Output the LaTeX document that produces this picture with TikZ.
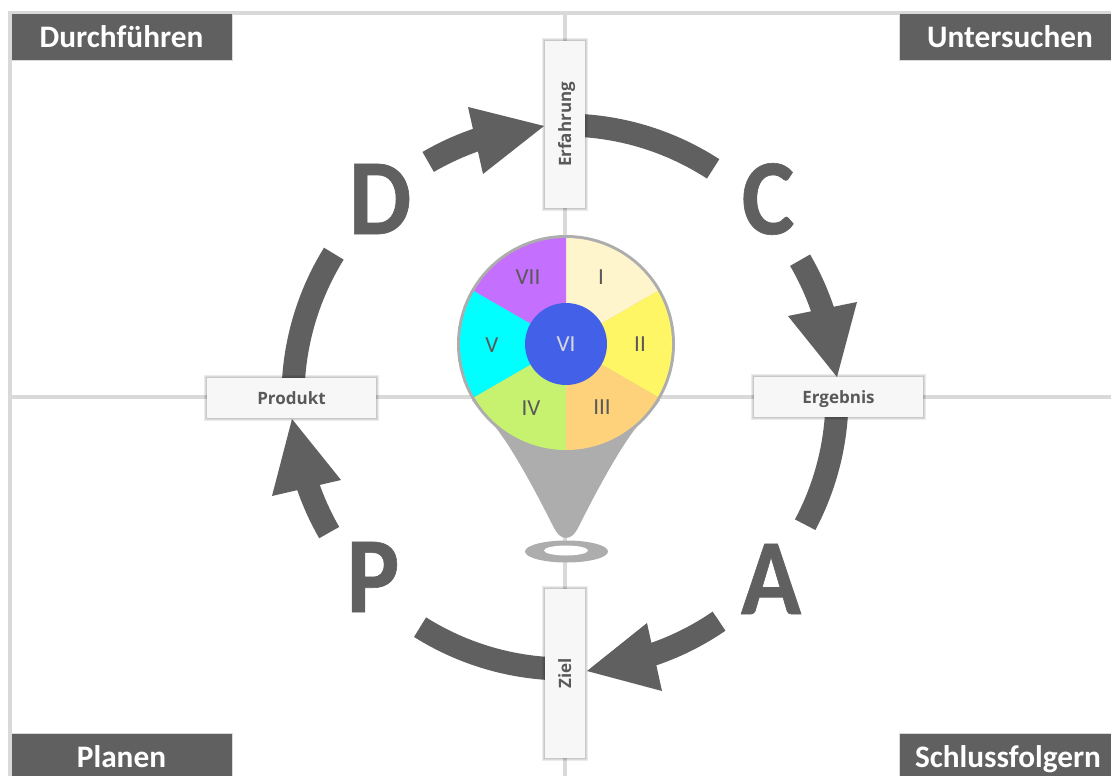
\documentclass[tikz,border=0pt]{standalone}
\usepackage{fontspec}
\setmainfont{Carlito}
\newfontfamily\lblfont{Open Sans}
\newfontfamily\letterfont[FakeBold=0.6]{Carlito Bold}
\definecolor{dk}{HTML}{606060}
\definecolor{gridc}{HTML}{D9D9D9}
\definecolor{pinc}{HTML}{ADADAD}
\definecolor{boxc}{HTML}{F7F7F7}
\definecolor{numc}{HTML}{595959}
\definecolor{sI}{HTML}{FFF5CC}
\definecolor{sII}{HTML}{FFF666}
\definecolor{sIII}{HTML}{FDD27A}
\definecolor{sIV}{HTML}{C7F26F}
\definecolor{sV}{HTML}{00FFFF}
\definecolor{sVI}{HTML}{4360E8}
\definecolor{sVII}{HTML}{C56FFF}
\tikzset{
  gridline/.style={draw=gridc,line width=3.5pt},
  header/.style={fill=dk,draw=gridc,line width=1pt,text=white,font=\fontsize{31.3}{32}\selectfont\bfseries,inner sep=0pt,text height=22pt,text depth=1pt},
  shaft/.style={draw=dk,line width=23pt},
  head/.style={fill=dk,draw=none},
  letter/.style={text=dk,font=\letterfont\fontsize{108}{110}\selectfont,inner sep=0pt,xscale=.92},
  softedge/.style={preaction={draw=black,draw opacity=.08,line width=#1}},
  tag/.style={fill=boxc,draw=none,inner sep=0pt,text=numc,font=\lblfont\fontsize{17}{18}\selectfont\bfseries,
    text height=13pt,text depth=1pt,
    softedge=6pt,softedge=4pt,softedge=2pt},
  num/.style={text=numc,font=\fontsize{23}{24}\selectfont,inner sep=0pt},
}
\newcommand{\wedgefill}[3]{\fill[fill=#1] (p) -- ++(#2:106) arc[start angle=#2,end angle=#3,radius=106] -- cycle;}
\begin{document}
\begin{tikzpicture}[x=1pt,y=-1pt]
\useasboundingbox (0,0) rectangle (1111,776);
\clip (0,0) rectangle (1111,776);
\coordinate (c) at (565,397);
\coordinate (p) at (566,344);
% grid
\draw[gridline] (10,776) -- (10,13) -- (1111,13);
\draw[gridline] (565,13) -- (565,776);
\draw[gridline] (10,397) -- (1111,397);
% headers
\node[header,minimum width=221pt,minimum height=47pt] (h1) at (121.5,37.5) {Durchführen};
\node[header,minimum width=213pt,minimum height=47pt] (h2) at (1005.5,37.5) {\hspace*{9pt}Untersuchen};
\node[header,minimum width=221pt,minimum height=47pt] (h3) at (121.5,757) {Planen};
\node[header,minimum width=213pt,minimum height=47pt] (h4) at (1005.5,757) {\hspace*{5pt}Schlussfolgern};
% arcs
\draw[shaft] (c) ++(-90:272) arc[start angle=-90,end angle=-57,radius=272];
\draw[shaft] (c) ++(0:272) arc[start angle=0,end angle=28,radius=272];
\draw[shaft] (c) ++(90:272) arc[start angle=90,end angle=122.2,radius=272];
\draw[shaft] (c) ++(180:272) arc[start angle=180,end angle=211.8,radius=272];
% arrows
\draw[shaft] (c) ++(239.8:272) arc[start angle=239.8,end angle=252,radius=272];
\fill[head] (544,126) -- (468,107) -- (483,174) -- cycle;
\draw[shaft] (c) ++(-30.2:272) arc[start angle=-30.2,end angle=-18,radius=272];
\fill[head] (837,377) -- (788,316) -- (857,302) -- cycle;
\draw[shaft] (c) ++(55.5:272) arc[start angle=55.5,end angle=72,radius=272];
\fill[head] (587,671) -- (647,623) -- (662,691) -- cycle;
\draw[shaft] (c) ++(150.1:272) arc[start angle=150.1,end angle=163,radius=272];
\fill[head] (292,419) -- (272,496) -- (341,480) -- cycle;
% letters
\node[letter] (ld) at (380,199) {D};
\node[letter] (lc) at (768,199) {C};
\node[letter] (la) at (771,579) {A};
\node[letter] (lp) at (373,577) {P};
% tags
\node[tag,rotate=90,minimum width=167pt,minimum height=40pt] (erf) at (565,124.5) {Erfahrung};
\node[tag,rotate=90,minimum width=169pt,minimum height=40pt] (ziel) at (565,673) {Ziel};
\node[tag,minimum width=169pt,minimum height=40pt] (prod) at (291.5,398) {Produkt};
\node[tag,minimum width=169pt,minimum height=40pt] (erg) at (838.5,397) {Ergebnis};
% pin
\fill[pinc] (566.5,551.5) ellipse[x radius=41.5,y radius=11];
\fill[white] (566,550.5) ellipse[x radius=22,y radius=5];
\fill[pinc] (472,400) .. controls (482,414) and (492,421) .. (502,436)
  .. controls (519,460) and (540,500) .. (553,526)
  .. controls (557,534) and (561,538) .. (566,538)
  .. controls (571,538) and (575,534) .. (579,526)
  .. controls (592,500) and (613,460) .. (630,436)
  .. controls (640,421) and (650,414) .. (660,400) -- cycle;
\fill[pinc] (p) circle[radius=109];
\wedgefill{sI}{-90}{-30}
\wedgefill{sII}{-30}{30}
\wedgefill{sIII}{30}{90}
\wedgefill{sIV}{90}{150}
\wedgefill{sV}{150}{210}
\wedgefill{sVII}{210}{270}
\fill[sVI] (p) circle[radius=41];
\node[num] (nI) at (601,277) {I};
\node[num] (nII) at (640,344) {II};
\node[num] (nIII) at (602,407) {III};
\node[num] (nIV) at (531,408) {IV};
\node[num] (nV) at (492,345) {V};
\node[num,text=gridc] (nVI) at (566,344) {VI};
\node[num] (nVII) at (528,277) {VII};
\end{tikzpicture}
\end{document}
